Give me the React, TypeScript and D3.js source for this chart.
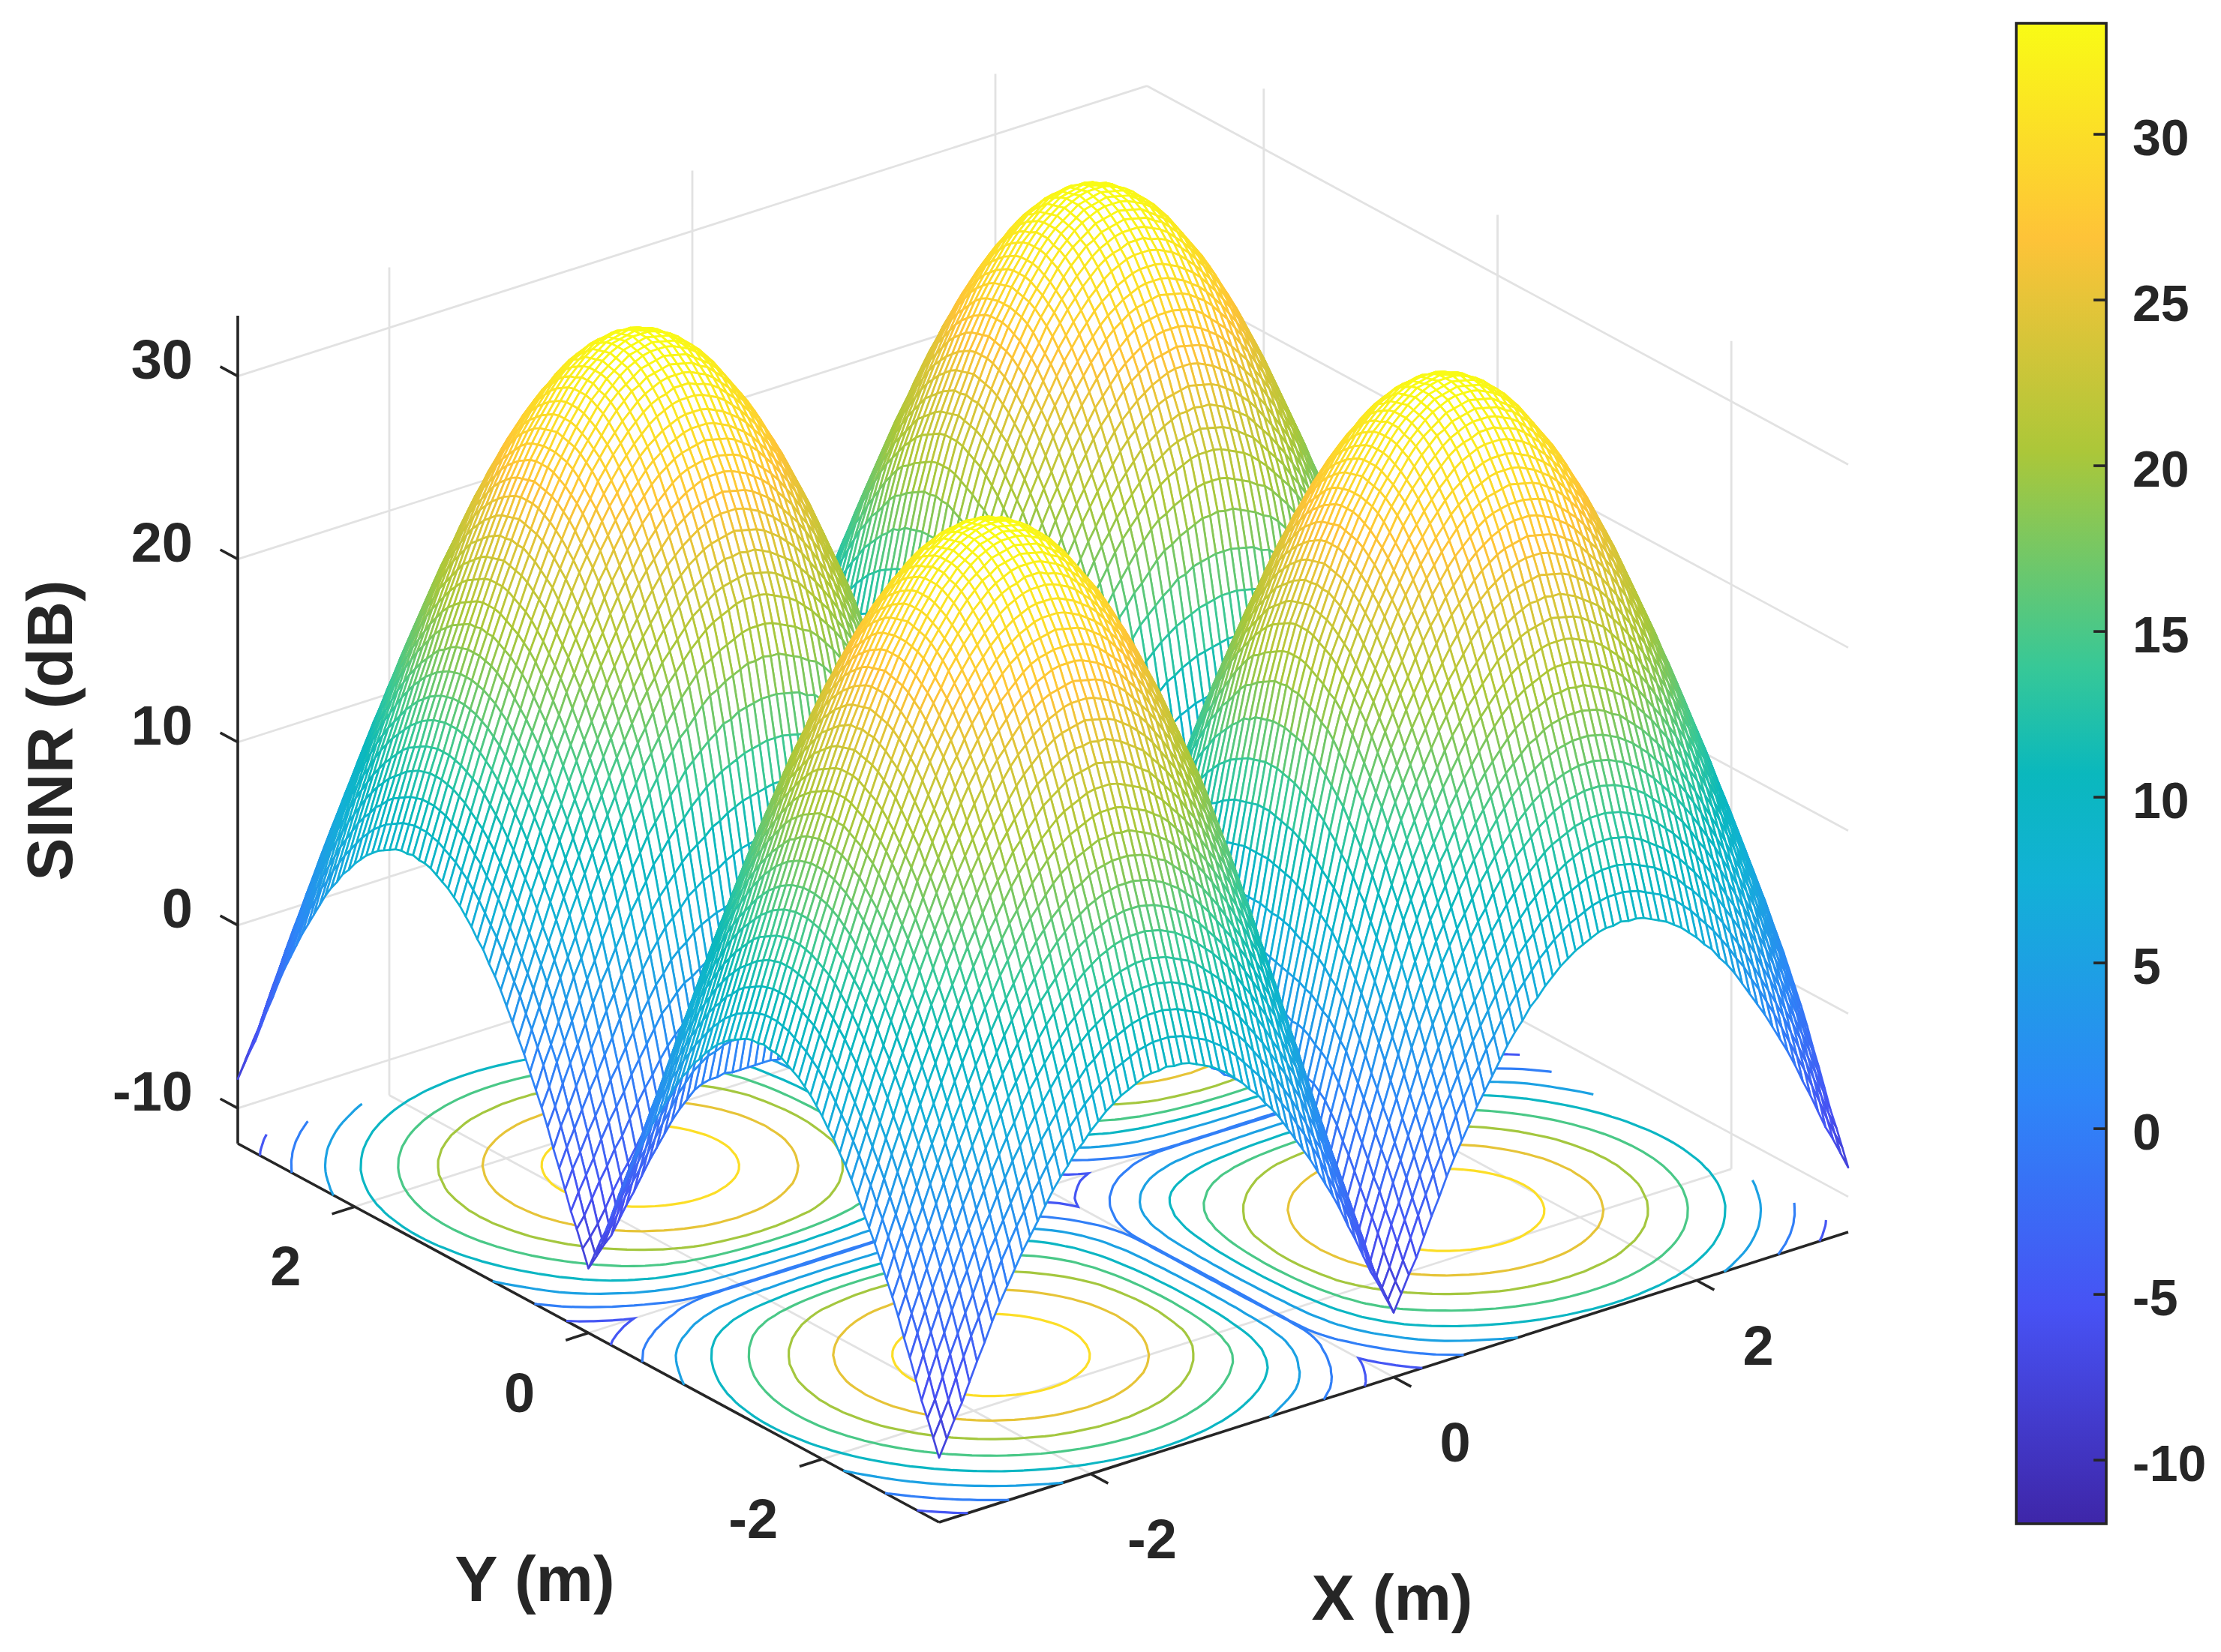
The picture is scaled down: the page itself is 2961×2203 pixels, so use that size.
import { useEffect, useRef } from "react"
import * as d3 from "d3"

// Row = steps from the peak along one axis, column = steps along the other (step 0.05 m, column <= row).
const octant: number[][] = [
  [33.5],
  [33.5, 33.4],
  [33.4, 33.3, 33.2],
  [33.2, 33.2, 33.1, 32.9],
  [33.0, 32.9, 32.8, 32.7, 32.4],
  [32.7, 32.6, 32.5, 32.4, 32.1, 31.9],
  [32.3, 32.3, 32.2, 32.0, 31.8, 31.5, 31.1],
  [31.9, 31.9, 31.7, 31.6, 31.4, 31.1, 30.7, 30.3],
  [31.4, 31.4, 31.3, 31.1, 30.9, 30.6, 30.2, 29.8, 29.3],
  [30.8, 30.8, 30.7, 30.5, 30.3, 30.0, 29.7, 29.3, 28.8, 28.3],
  [30.2, 30.2, 30.1, 29.9, 29.7, 29.4, 29.1, 28.7, 28.2, 27.7, 27.1],
  [29.6, 29.5, 29.4, 29.3, 29.1, 28.8, 28.5, 28.1, 27.6, 27.1, 26.5, 25.9],
  [28.8, 28.8, 28.7, 28.6, 28.4, 28.1, 27.7, 27.3, 26.9, 26.4, 25.8, 25.2, 24.5],
  [28.1, 28.1, 28.0, 27.8, 27.6, 27.3, 27.0, 26.6, 26.1, 25.6, 25.1, 24.4, 23.8, 23.1],
  [27.3, 27.2, 27.1, 27.0, 26.8, 26.5, 26.2, 25.8, 25.3, 24.8, 24.3, 23.7, 23.0, 22.3, 21.5],
  [26.4, 26.4, 26.3, 26.1, 25.9, 25.6, 25.3, 24.9, 24.5, 24.0, 23.4, 22.8, 22.1, 21.4, 20.7, 19.9],
  [25.5, 25.4, 25.3, 25.2, 25.0, 24.7, 24.4, 24.0, 23.6, 23.1, 22.5, 21.9, 21.3, 20.6, 19.9, 19.1, 18.3],
  [24.5, 24.4, 24.4, 24.2, 24.0, 23.7, 23.4, 23.1, 22.6, 22.1, 21.6, 21.0, 20.4, 19.7, 19.0, 18.2, 17.4, 16.6],
  [23.5, 23.4, 23.3, 23.2, 23.0, 22.7, 22.4, 22.1, 21.6, 21.1, 20.6, 20.1, 19.4, 18.8, 18.1, 17.3, 16.5, 15.7, 14.8],
  [22.4, 22.4, 22.3, 22.1, 21.9, 21.7, 21.4, 21.0, 20.6, 20.1, 19.6, 19.1, 18.5, 17.8, 17.1, 16.4, 15.6, 14.8, 13.9, 13.0],
  [21.3, 21.3, 21.2, 21.0, 20.8, 20.6, 20.3, 20.0, 19.6, 19.1, 18.6, 18.0, 17.4, 16.8, 16.1, 15.4, 14.6, 13.8, 13.0, 12.1, 11.2],
  [20.2, 20.1, 20.1, 19.9, 19.7, 19.5, 19.2, 18.9, 18.5, 18.0, 17.5, 17.0, 16.4, 15.8, 15.1, 14.4, 13.6, 12.9, 12.0, 11.2, 10.3, 9.4],
  [19.0, 19.0, 18.9, 18.8, 18.6, 18.3, 18.1, 17.7, 17.3, 16.9, 16.4, 15.9, 15.3, 14.7, 14.0, 13.3, 12.6, 11.8, 11.0, 10.2, 9.3, 8.4, 7.5],
  [17.8, 17.8, 17.7, 17.6, 17.4, 17.2, 16.9, 16.6, 16.2, 15.8, 15.3, 14.8, 14.2, 13.6, 13.0, 12.3, 11.6, 10.8, 10.0, 9.2, 8.3, 7.4, 6.5, 5.6],
  [16.6, 16.6, 16.5, 16.4, 16.2, 16.0, 15.7, 15.4, 15.0, 14.6, 14.1, 13.6, 13.1, 12.5, 11.9, 11.2, 10.5, 9.8, 9.0, 8.2, 7.3, 6.4, 5.5, 4.6, 3.6],
  [15.4, 15.4, 15.3, 15.2, 15.0, 14.8, 14.5, 14.2, 13.8, 13.4, 13.0, 12.5, 12.0, 11.4, 10.7, 10.1, 9.4, 8.7, 7.9, 7.1, 6.3, 5.4, 4.5, 3.6, 2.6, 1.6],
  [14.1, 14.1, 14.0, 13.9, 13.7, 13.5, 13.3, 13.0, 12.6, 12.2, 11.8, 11.3, 10.8, 10.2, 9.6, 9.0, 8.3, 7.5, 6.8, 6.0, 5.2, 4.3, 3.4, 2.5, 1.6, 0.6, -0.4],
  [12.9, 12.9, 12.8, 12.7, 12.5, 12.3, 12.0, 11.7, 11.4, 11.0, 10.6, 10.1, 9.6, 9.0, 8.4, 7.8, 7.1, 6.4, 5.7, 4.9, 4.1, 3.2, 2.4, 1.5, 0.5, -0.4, -1.4, -2.5],
  [11.6, 11.6, 11.5, 11.4, 11.2, 11.0, 10.8, 10.5, 10.1, 9.8, 9.3, 8.9, 8.4, 7.8, 7.2, 6.6, 5.9, 5.2, 4.5, 3.7, 2.9, 2.1, 1.3, 0.4, -0.6, -1.5, -2.5, -3.5, -4.6],
  [10.3, 10.3, 10.2, 10.1, 9.9, 9.7, 9.5, 9.2, 8.9, 8.5, 8.1, 7.6, 7.1, 6.6, 6.0, 5.4, 4.7, 4.1, 3.3, 2.6, 1.8, 1.0, 0.1, -0.8, -1.7, -2.6, -3.6, -4.6, -5.7, -6.6],
  [9.0, 8.9, 8.9, 8.8, 8.6, 8.4, 8.2, 7.9, 7.6, 7.2, 6.8, 6.3, 5.9, 5.3, 4.8, 4.2, 3.5, 2.8, 2.1, 1.4, 0.6, -0.2, -1.0, -1.9, -2.9, -3.8, -4.8, -5.8, -6.6, -7.5, -8.4],
]

// How far the surface sinks below the octant next to the inner creases x = 0 and y = 0.
// Row = steps toward the crease starting at 20, column = steps along the crease from its middle.
const creaseDrop: number[][] = [
  [0.3, 0.3, 0.3, 0.3, 0.3, 0.3, 0.3, 0.2, 0.2, 0.2, 0.2, 0.2, 0.2, 0.2, 0.2, 0.1, 0.1, 0.1, 0.1, 0.1, 0.1, 0.1, 0.1, 0.1, 0.1, 0.1, 0, 0, 0, 0, 0],
  [0.7, 0.7, 0.7, 0.7, 0.7, 0.7, 0.7, 0.6, 0.6, 0.6, 0.6, 0.5, 0.5, 0.4, 0.4, 0.4, 0.3, 0.3, 0.3, 0.3, 0.2, 0.2, 0.2, 0.2, 0.2, 0.1, 0.1, 0.1, 0.1, 0, 0],
  [1.5, 1.5, 1.5, 1.5, 1.4, 1.4, 1.3, 1.3, 1.2, 1.2, 1.1, 1.0, 1.0, 0.9, 0.8, 0.7, 0.6, 0.6, 0.5, 0.5, 0.5, 0.4, 0.4, 0.4, 0.3, 0.3, 0.2, 0.2, 0.1, 0.1, 0],
  [2.4, 2.4, 2.4, 2.4, 2.3, 2.3, 2.2, 2.1, 2.0, 1.9, 1.8, 1.7, 1.6, 1.4, 1.3, 1.2, 1.0, 1.0, 0.9, 0.8, 0.8, 0.7, 0.7, 0.6, 0.5, 0.5, 0.4, 0.3, 0.2, 0.1, 0],
  [3.4, 3.4, 3.4, 3.4, 3.3, 3.2, 3.1, 3.0, 2.9, 2.7, 2.6, 2.4, 2.2, 2.0, 1.9, 1.7, 1.5, 1.4, 1.3, 1.2, 1.1, 1.0, 1.0, 0.9, 0.8, 0.7, 0.6, 0.4, 0.3, 0.1, 0],
  [4.5, 4.5, 4.4, 4.4, 4.3, 4.2, 4.0, 3.9, 3.7, 3.6, 3.4, 3.1, 2.9, 2.6, 2.4, 2.2, 1.9, 1.8, 1.6, 1.5, 1.4, 1.3, 1.2, 1.2, 1.0, 0.9, 0.7, 0.6, 0.4, 0.2, 0],
  [5.5, 5.5, 5.4, 5.4, 5.3, 5.1, 5.0, 4.8, 4.6, 4.4, 4.1, 3.8, 3.5, 3.2, 3.0, 2.7, 2.4, 2.2, 2.0, 1.9, 1.8, 1.7, 1.5, 1.4, 1.2, 1.1, 0.9, 0.7, 0.5, 0.2, 0],
  [6.4, 6.4, 6.3, 6.3, 6.1, 6.0, 5.8, 5.6, 5.4, 5.1, 4.8, 4.5, 4.1, 3.8, 3.5, 3.1, 2.8, 2.6, 2.3, 2.2, 2.1, 1.9, 1.8, 1.7, 1.4, 1.2, 1.0, 0.8, 0.6, 0.3, 0],
  [7.3, 7.3, 7.3, 7.2, 7.0, 6.9, 6.6, 6.4, 6.2, 5.8, 5.5, 5.1, 4.7, 4.3, 4.0, 3.6, 3.2, 2.9, 2.7, 2.5, 2.4, 2.2, 2.1, 1.9, 1.7, 1.4, 1.2, 0.9, 0.6, 0.3, 0],
  [8.3, 8.3, 8.2, 8.1, 7.9, 7.7, 7.5, 7.2, 6.9, 6.6, 6.2, 5.8, 5.3, 4.9, 4.5, 4.0, 3.6, 3.3, 3.0, 2.8, 2.7, 2.5, 2.3, 2.1, 1.9, 1.6, 1.3, 1.1, 0.7, 0.4, 0],
  [9.3, 9.3, 9.2, 9.1, 8.9, 8.7, 8.4, 8.1, 7.8, 7.4, 7.0, 6.5, 6.0, 5.5, 5.0, 4.5, 4.0, 3.7, 3.4, 3.2, 3.0, 2.8, 2.6, 2.4, 2.1, 1.8, 1.5, 1.2, 0.8, 0.4, 0],
]

const xTicks = [-2, 0, 2]
const yTicks = [-2, 0, 2]
const zTicks = [-10, 0, 10, 20, 30]
const colorbarTicks = [-10, -5, 0, 5, 10, 15, 20, 25, 30]
const contourLevels = [-5, 0, 5, 10, 15, 20, 25, 30]
const parulaOffsets = [0, 0.143, 0.286, 0.429, 0.5, 0.571, 0.714, 0.857, 1]
const parulaColors = ["#3e26a8", "#4752f4", "#2d87f7", "#12b1d6", "#0ab8bd", "#37c897", "#abc739", "#fec338", "#f9fb15"]

const xDomain: [number, number] = [-3, 3]
const zDomain: [number, number] = [-11.93, 33.3]
const colorDomain: [number, number] = [-11.92, 33.35]

const INK = "#262626"
const FONT = "'Liberation Sans', Arial, sans-serif"

export default function App() {
  const svgRef = useRef<SVGSVGElement>(null)

  useEffect(() => {
    if (!svgRef.current) return

    d3.select(svgRef.current).selectAll("*").remove()
    const svg = d3.select(svgRef.current)

    // Orthographic view: the floor corners and the height scale, in page pixels
    const front = [1252, 2030]
    const right = [2464, 1643]
    const left = [317, 1525]
    const t = d3.scaleLinear().domain(xDomain).range([0, 1])
    const zPx = d3.scaleLinear().domain(zDomain).range([0, -1104])
    const project = (x: number, y: number, z: number): [number, number] => [
      front[0] + t(x) * (right[0] - front[0]) + t(y) * (left[0] - front[0]),
      front[1] + t(x) * (right[1] - front[1]) + t(y) * (left[1] - front[1]) + zPx(z),
    ]

    const color = d3
      .scaleLinear<string>()
      .domain(parulaOffsets.map((o) => colorDomain[0] + o * (colorDomain[1] - colorDomain[0])))
      .range(parulaColors)
      .clamp(true)

    // Unfold the two tables into the whole grid; positive steps point at the middle of the room
    const n = 121
    const grid = d3.range(n).map((i) => xDomain[0] + i * 0.05)
    const signed = (i: number) => 30 - Math.abs(i - 60)
    const drop = (a: number, b: number) => (a >= 20 ? creaseDrop[a - 20][Math.abs(b)] : 0)
    const valueAt = (ix: number, iy: number) => {
      const a = signed(ix)
      const b = signed(iy)
      const u = Math.abs(a)
      const v = Math.abs(b)
      return octant[Math.max(u, v)][Math.min(u, v)] - drop(a, b) - drop(b, a)
    }
    const values: number[] = []
    for (let iy = 0; iy < n; iy++) for (let ix = 0; ix < n; ix++) values.push(valueAt(ix, iy))

    const [z0, z1] = zDomain
    const [lo, hi] = xDomain
    const segment = (a: [number, number], b: [number, number]) => `M${a[0]},${a[1]}L${b[0]},${b[1]}`

    // Grid on the floor and the two back walls
    const gridLines: string[] = []
    xTicks.forEach((x) => {
      gridLines.push(segment(project(x, lo, z0), project(x, hi, z0)))
      gridLines.push(segment(project(x, hi, z0), project(x, hi, z1)))
    })
    yTicks.forEach((y) => {
      gridLines.push(segment(project(lo, y, z0), project(hi, y, z0)))
      gridLines.push(segment(project(hi, y, z0), project(hi, y, z1)))
    })
    zTicks.forEach((z) => {
      gridLines.push(segment(project(lo, hi, z), project(hi, hi, z)))
      gridLines.push(segment(project(hi, hi, z), project(hi, lo, z)))
    })
    svg
      .append("path")
      .attr("d", gridLines.join(""))
      .attr("fill", "none")
      .attr("stroke", "#e2e2e2")
      .attr("stroke-width", 2.8)

    // Axis lines and ticks
    const axisLines: string[] = [
      segment(project(lo, hi, z0), project(lo, lo, z0)),
      segment(project(lo, lo, z0), project(hi, lo, z0)),
      segment(project(lo, hi, z0), project(lo, hi, z1)),
    ]
    const tickLen = 0.15
    xTicks.forEach((x) => axisLines.push(segment(project(x, lo, z0), project(x, lo - tickLen, z0))))
    yTicks.forEach((y) => axisLines.push(segment(project(lo, y, z0), project(lo - tickLen, y, z0))))
    zTicks.forEach((z) => axisLines.push(segment(project(lo, hi, z), project(lo, hi + tickLen, z))))
    svg
      .append("path")
      .attr("d", axisLines.join(""))
      .attr("fill", "none")
      .attr("stroke", INK)
      .attr("stroke-width", 3.6)

    // Contours on the floor, with the outline along the grid border taken out
    const contourLine = d3
      .line<[number, number]>()
      .x((d) => d[0])
      .y((d) => d[1])
    const bands = d3.contours().size([n, n]).thresholds(contourLevels)(values)
    bands.forEach((band) => {
      const paths: string[] = []
      band.coordinates.forEach((polygon) => {
        polygon.forEach((ring) => {
          let run: [number, number][] = []
          const flush = () => {
            if (run.length > 1) paths.push(contourLine(run) as string)
            run = []
          }
          ring.forEach((p) => {
            const gx = p[0] - 0.5
            const gy = p[1] - 0.5
            if (gx < 0 || gy < 0 || gx > n - 1 || gy > n - 1) flush()
            else run.push(project(lo + gx * 0.05, lo + gy * 0.05, z0))
          })
          flush()
        })
      })
      svg
        .append("path")
        .attr("d", paths.join(""))
        .attr("fill", "none")
        .attr("stroke", color(band.value))
        .attr("stroke-width", 3.2)
    })

    // Mesh, painted back to front with white faces so it hides what is behind it
    const cells: { ix: number; iy: number }[] = []
    for (let ix = n - 2; ix >= 0; ix--) for (let iy = n - 2; iy >= 0; iy--) cells.push({ ix, iy })
    const corner = (ix: number, iy: number) => project(grid[ix], grid[iy], valueAt(ix, iy))
    svg
      .append("g")
      .attr("stroke-width", 2.7)
      .attr("stroke-linejoin", "round")
      .selectAll("path")
      .data(cells)
      .join("path")
      .attr("fill", "#ffffff")
      .attr("stroke", ({ ix, iy }) =>
        color((valueAt(ix, iy) + valueAt(ix + 1, iy) + valueAt(ix, iy + 1) + valueAt(ix + 1, iy + 1)) / 4),
      )
      .attr("d", ({ ix, iy }) => {
        const a = corner(ix, iy)
        const b = corner(ix + 1, iy)
        const c = corner(ix + 1, iy + 1)
        const d = corner(ix, iy + 1)
        return `M${a[0]},${a[1]}L${b[0]},${b[1]}L${c[0]},${c[1]}L${d[0]},${d[1]}Z`
      })

    // Tick labels and axis titles
    const text = (x: number, y: number, s: string, size: number, anchor = "middle", transform?: string) =>
      svg
        .append("text")
        .attr("x", x)
        .attr("y", y)
        .attr("text-anchor", anchor)
        .attr("transform", transform ?? null)
        .attr("fill", INK)
        .attr("font-family", FONT)
        .attr("font-weight", "bold")
        .attr("font-size", size)
        .text(s)

    xTicks.forEach((x) => {
      const p = project(x, lo, z0)
      text(p[0] + 82, p[1] + 112, String(x), 74)
    })
    yTicks.forEach((y) => {
      const p = project(lo, y, z0)
      text(p[0] - 92, p[1] + 105, String(y), 74)
    })
    zTicks.forEach((z) => {
      const p = project(lo, hi, z)
      text(p[0] - 60, p[1] + 3, String(z), 74, "end")
    })
    text(713, 2135, "Y (m)", 86)
    text(1856, 2160, "X (m)", 86)
    text(0, 0, "SINR (dB)", 86, "middle", "translate(96,974) rotate(-90)")

    // Colorbar
    const bar = { x0: 2688, x1: 2808, y0: 31, y1: 2032 }
    const barY = d3.scaleLinear().domain(colorDomain).range([bar.y1, bar.y0])
    const gradient = svg
      .append("defs")
      .append("linearGradient")
      .attr("id", "parula")
      .attr("x1", 0)
      .attr("y1", 1)
      .attr("x2", 0)
      .attr("y2", 0)
    parulaOffsets.forEach((o, i) => {
      gradient.append("stop").attr("offset", o).attr("stop-color", parulaColors[i])
    })
    svg
      .append("rect")
      .attr("x", bar.x0)
      .attr("y", bar.y0)
      .attr("width", bar.x1 - bar.x0)
      .attr("height", bar.y1 - bar.y0)
      .attr("fill", "url(#parula)")
      .attr("stroke", INK)
      .attr("stroke-width", 3.6)
    colorbarTicks.forEach((v) => {
      svg
        .append("line")
        .attr("x1", bar.x1 - 17)
        .attr("x2", bar.x1)
        .attr("y1", barY(v))
        .attr("y2", barY(v))
        .attr("stroke", INK)
        .attr("stroke-width", 3.6)
      text(2843, barY(v) + 28, String(v), 68, "start")
    })
  }, [])

  return (
    <svg
      ref={svgRef}
      width={2961}
      height={2203}
      viewBox="0 0 2961 2203"
      style={{ position: "absolute", left: 0, top: 0, background: "#ffffff" }}
    />
  )
}
